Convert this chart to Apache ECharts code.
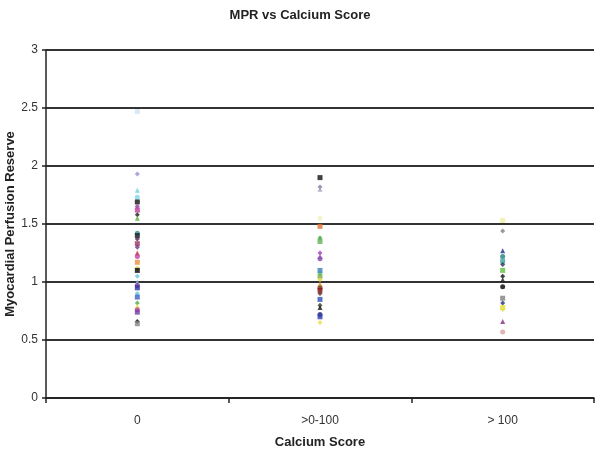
<!DOCTYPE html>
<html>
<head>
<meta charset="utf-8">
<script src="https://cdn.jsdelivr.net/npm/echarts@6/dist/echarts.min.js"></script>
<style>html,body{margin:0;padding:0;background:#fff}#c{width:600px;height:451px}</style>
</head>
<body>
<div id="c"></div>
<script>
var categories = ['0', '>0-100', '> 100'];
var yTicks = [0, 0.5, 1, 1.5, 2, 2.5, 3];
var group0 = [2.47, 1.93, 1.79, 1.73, 1.69, 1.65, 1.62, 1.58, 1.55, 1.42, 1.40, 1.37, 1.33, 1.30, 1.25, 1.22, 1.17, 1.12, 1.10, 1.05, 1.00, 0.97, 0.95, 0.90, 0.87, 0.82, 0.79, 0.76, 0.74, 0.66, 0.64];
var group1 = [1.90, 1.82, 1.80, 1.55, 1.48, 1.38, 1.35, 1.25, 1.22, 1.20, 1.10, 1.08, 1.05, 1.02, 0.98, 0.95, 0.93, 0.90, 0.85, 0.80, 0.78, 0.72, 0.70, 0.65];
var group2 = [1.53, 1.44, 1.27, 1.22, 1.18, 1.15, 1.10, 1.05, 1.02, 0.96, 0.86, 0.82, 0.78, 0.76, 0.66, 0.57];
var groups = [group0, group1, group2];

var colors0 = ['#cfe3f5','#9a8fd0','#6fd3e0','#7fd8e8','#111111','#8b3a9e','#c0399c','#222222','#5cb030','#2f8f8f','#1a1a1a','#4a2a5a','#a03060','#6a3a8a','#c03040','#c040a0','#e89040','#e8e040','#000000','#60c8d8','#8fb8e0','#7a3a9a','#3030a0','#60c8d8','#4060c0','#50b050','#e8e040','#c04090','#7040a0','#111111','#888888'];
var colors1 = ['#111111','#8080a0','#a0a0c0','#f0f0c0','#e07030','#40a040','#60b050','#a040c0','#c040a0','#8050b0','#4080c0','#40a0a0','#70b040','#e0d040','#e09030','#804020','#801818','#602020','#3050c0','#304020','#111111','#202070','#3040b0','#e8e040'];
var colors2 = ['#f0f0a0','#808080','#203080','#208080','#40a0a0','#203060','#60c040','#111111','#222222','#000000','#808080','#203080','#e0e020','#e8e060','#803080','#e0a0a0'];
var colorSets = [colors0, colors1, colors2];
var symbols = ['rect', 'diamond', 'triangle', 'circle', 'rect', 'diamond'];

var series = [];
groups.forEach(function (g, gi) {
  series.push({
    type: 'scatter',
    symbolSize: 5,
    data: g.map(function (v, i) {
      return {
        value: [gi, v],
        symbol: symbols[i % symbols.length],
        itemStyle: { color: colorSets[gi][i % colorSets[gi].length] }
      };
    })
  });
});

var chart = echarts.init(document.getElementById('c'));
chart.setOption({
  backgroundColor: '#fff',
  animation: false,
  title: {
    text: 'MPR vs Calcium Score',
    left: 'center',
    top: 4,
    textStyle: { fontFamily: 'Liberation Sans', fontSize: 13, fontWeight: 'bold', color: '#222' }
  },
  grid: { left: 46, right: 6, top: 50, bottom: 53, outerBoundsMode: 'none', containLabel: false },
  xAxis: {
    type: 'category',
    data: categories,
    boundaryGap: true,
    name: 'Calcium Score',
    nameLocation: 'middle',
    nameGap: 38,
    nameMoveOverlap: false,
    nameTextStyle: { fontFamily: 'Liberation Sans', fontSize: 13, fontWeight: 'bold', color: '#222' },
    axisLine: { lineStyle: { color: '#222', width: 1.5 } },
    axisTick: { show: true, length: 5, lineStyle: { color: '#222', width: 1.5 } },
    axisLabel: { fontFamily: 'Liberation Sans', fontSize: 12, color: '#333', margin: 17 },
    splitLine: { show: false }
  },
  yAxis: {
    type: 'value',
    min: yTicks[0],
    max: yTicks[yTicks.length - 1],
    interval: 0.5,
    name: 'Myocardial Perfusion Reserve',
    nameLocation: 'middle',
    nameGap: 29,
    nameMoveOverlap: false,
    nameTextStyle: { fontFamily: 'Liberation Sans', fontSize: 13, fontWeight: 'bold', color: '#222' },
    axisLine: { show: true, lineStyle: { color: '#222', width: 1.5 } },
    axisTick: { show: true, length: 4, lineStyle: { color: '#222', width: 1.5 } },
    axisLabel: { fontFamily: 'Liberation Sans', fontSize: 12, color: '#333', margin: 8 },
    splitLine: { show: true, lineStyle: { color: '#333', width: 1.8 } }
  },
  series: series
});
</script>
</body>
</html>
